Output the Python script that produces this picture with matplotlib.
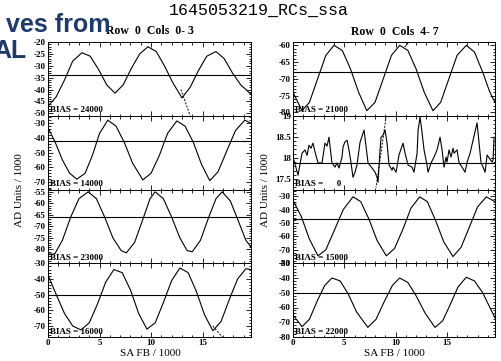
import matplotlib
matplotlib.use('Agg')
import matplotlib.pyplot as plt
from matplotlib.ticker import MultipleLocator, FuncFormatter

# ---------------------------------------------------------------------------
# Data (SA FB / 1000 vs AD Units / 1000)
# ---------------------------------------------------------------------------
title = '1645053219_RCs_ssa'
col_titles = ['Row  0  Cols  0- 3', 'Row  0  Cols  4- 7']
bias_left = ['24000', '14000', '23000', '16000']
bias_right = ['21000', '     0', '15000', '22000']

# left column
l1_x = [0, 0.8, 1.6, 2.4, 3.3, 4.1, 4.9, 5.7, 6.5, 7.3, 8.1, 8.9, 9.7, 10.5,
        11.3, 12.1, 13.0, 13.8, 14.6, 15.4, 16.3, 17.1, 17.9, 18.7, 19.7]
l1_y = [-47, -43, -36, -28, -24.5, -26, -31.5, -38, -41.5, -38, -31, -25, -22, -24,
        -30, -37, -43.5, -39, -32, -26, -24, -27, -33, -38, -42]

l2_x = [0, 0.7, 1.4, 2.1, 2.8, 3.6, 4.3, 5.0, 5.8, 6.6, 7.4, 8.2, 9.2, 10.0,
        10.8, 11.6, 12.5, 13.3, 14.1, 14.9, 15.7, 16.5, 17.4, 18.2, 19.1, 19.7]
l2_y = [-33, -43, -55, -64, -68, -64, -52, -37, -28, -32, -43, -57, -68.5, -64,
        -52, -37, -28.5, -32, -43, -58, -69, -63, -48, -35, -28, -30]

l3_x = [0, 0.65, 1.4, 2.2, 3.0, 3.9, 4.7, 5.5, 6.3, 7.1, 7.6, 8.4, 9.2, 9.9,
        10.4, 11.2, 12.0, 12.8, 13.5, 14.0, 14.8, 15.6, 16.3, 16.9, 17.7, 18.5,
        19.2, 19.7]
l3_y = [-82, -82, -76, -66, -58, -55, -58, -66, -75, -80.5, -81.5, -77, -67, -58,
        -55, -58, -66, -75, -80.5, -81, -76, -66, -58, -55, -59, -68,
        -76, -79]

l4_x = [0, 0.8, 1.6, 2.4, 3.2, 4.0, 4.8, 5.6, 6.4, 7.2, 8.0, 8.8, 9.6, 10.4,
        11.2, 12.0, 12.8, 13.6, 14.4, 15.2, 16.0, 16.8, 17.6, 18.4, 19.2, 19.7]
l4_y = [-37.5, -50, -62, -70, -72.5, -68, -56, -42, -34, -36, -47, -62, -72, -68,
        -55, -41, -33, -36, -48, -63, -73, -67, -53, -40, -33.5, -34]

# right column
r1_x = [0, 0.88, 1.6, 2.4, 3.2, 4.0, 4.8, 5.6, 6.4, 7.2, 8.0, 8.8, 9.6, 10.4,
        11.2, 12.0, 12.8, 13.65, 14.4, 15.2, 16.0, 16.9, 17.7, 18.5, 19.2, 19.7]
r1_y = [-74, -79.5, -77, -70, -63, -60, -61.5, -67, -74, -79.5, -77, -70, -63, -60,
        -61.5, -67, -74, -79.5, -77, -70, -63, -60, -62, -68, -74, -77]

r2_x = [0, 0.49, 0.88, 1.17, 1.37, 1.56, 1.76, 1.95, 2.15, 2.44, 2.83, 3.12, 3.32,
        3.51, 3.80, 4.10, 4.29, 4.49, 4.78, 4.88, 5.07, 5.27, 5.46, 5.66, 5.85,
        6.05, 6.24, 6.54, 6.93, 7.32, 7.71, 8.00, 8.20, 8.29, 8.49, 8.59, 8.78,
        8.98, 9.17, 9.37, 9.66, 9.76, 10.05, 10.34, 10.73, 10.93, 11.22, 11.61,
        11.80, 12.10, 12.20, 12.39, 12.59, 12.78, 13.07, 13.17, 13.46, 13.76,
        14.05, 14.34, 14.54, 14.73, 14.93, 15.02, 15.22, 15.41, 15.61, 15.71,
        16.00, 16.20, 16.49, 16.78, 16.98, 17.27, 17.56, 17.95, 18.05, 18.34,
        18.54, 18.73, 18.93, 19.12, 19.41, 19.51, 19.61]
r2_y = [18.02, 17.59, 18.11, 18.19, 18.06, 18.30, 18.23, 18.35, 18.14, 17.88, 17.88,
        18.35, 18.28, 18.49, 17.88, 17.78, 17.88, 17.76, 18.02, 18.26, 18.38, 18.42,
        18.19, 17.88, 17.54, 17.66, 17.83, 18.37, 18.66, 17.88, 17.76, 17.66, 17.54,
        17.42, 18.19, 18.49, 18.54, 18.66, 18.35, 17.83, 17.71, 17.78, 17.66, 18.07,
        18.35, 18.11, 17.83, 17.78, 17.66, 18.11, 18.66, 18.97, 18.59, 18.19, 17.83,
        17.66, 17.88, 18.02, 18.19, 18.49, 18.19, 17.78, 18.02, 17.90, 18.19, 18.02,
        18.23, 18.11, 18.19, 17.88, 17.78, 17.66, 17.90, 18.11, 18.42, 18.83, 18.59,
        17.88, 17.78, 17.66, 18.07, 18.00, 17.90, 17.95, 18.49]

r3_x = [0, 0.8, 1.6, 2.44, 3.2, 4.0, 4.9, 5.85, 6.6, 7.4, 8.2, 9.1, 9.9, 10.7,
        11.5, 12.35, 13.1, 13.9, 14.7, 15.6, 16.4, 17.2, 18.0, 18.85, 19.7]
r3_y = [-33, -45, -62, -74.5, -70, -56, -40, -30.5, -34, -47, -63, -74.5, -69, -55,
        -39, -30.5, -34, -48, -64, -75, -68, -53, -38, -30.5, -34]

r4_x = [0, 0.88, 1.6, 2.4, 3.1, 3.8, 4.6, 5.4, 6.2, 7.3, 8.1, 8.9, 9.7, 10.4,
        11.2, 12.0, 12.9, 13.85, 14.6, 15.4, 16.1, 16.9, 17.7, 18.5, 19.2, 19.7]
r4_y = [-65, -73, -68, -55, -45, -40, -42, -51, -63, -73.5, -68, -56, -45, -40,
        -43, -52, -64, -73.5, -69, -57, -46, -39.5, -42, -50, -60, -67]

mid_left = [-34, -42, -66, -50]
mid_right = [-68, 17.87, -47, -50]

# short dashed fit segments
dash_l1_x, dash_l1_y = [12.9, 13.8], [-40, -51]
dash_l4_x, dash_l4_y = [16.0, 16.9], [-70, -77]
dash_r2_x, dash_r2_y = [9.1, 8.1], [19.0, 17.3]
dash_r1_x, dash_r1_y = [10.9, 11.3], [-60.5, -59]

# ---------------------------------------------------------------------------
# Figure
# ---------------------------------------------------------------------------
W, H = 501, 361
fig = plt.figure(figsize=(W / 100, H / 100), dpi=100)
serif = 'Liberation Serif'


def px_rect(x0, x1, y0, y1):
    return [x0 / W, 1 - y1 / H, (x1 - x0) / W, (y1 - y0) / H]


def strip_fmt(v, pos):
    s = f'{v:g}'
    return s.replace('-', '\u2212') if False else s


top, bottom = 42, 337
step = (bottom - top) / 4
columns = [
    dict(x0=48, x1=251,
         curves=[(l1_x, l1_y), (l2_x, l2_y), (l3_x, l3_y), (l4_x, l4_y)],
         mids=mid_left, bias=bias_left,
         ylims=[(-51, -20), (-75, -25), (-86, -54), (-77, -30)],
         major=[5, 10, 5, 10], minor=[1, 2, 1, 2],
         yticks=[range(-50, -19, 5), range(-70, -29, 10), range(-80, -54, 5),
                 range(-70, -29, 10)]),
    dict(x0=293, x1=495,
         curves=[(r1_x, r1_y), (r2_x, r2_y), (r3_x, r3_y), (r4_x, r4_y)],
         mids=mid_right, bias=bias_right,
         ylims=[(-81, -59), (17.25, 19.0), (-80, -25), (-80, -30)],
         major=[5, 0.5, 10, 10], minor=[1, 0.1, 2, 2],
         yticks=[range(-80, -59, 5), [17.5, 18, 18.5, 19], range(-80, -29, 10),
                 range(-80, -29, 10)]),
]

axes = {}
for c, col in enumerate(columns):
    for r in range(4):
        ax = fig.add_axes(px_rect(col['x0'], col['x1'], top + r * step,
                                  top + (r + 1) * step))
        axes[(c, r)] = ax
        xs, ys = col['curves'][r]
        ax.plot(xs, ys, color='black', lw=0.8)
        ax.axhline(col['mids'][r], color='black', lw=0.8)
        ax.set_xlim(0, 19.7)
        ax.set_ylim(*col['ylims'][r])
        ax.set_yticks(list(col['yticks'][r]))
        ax.yaxis.set_minor_locator(MultipleLocator(col['minor'][r]))
        ax.xaxis.set_major_locator(MultipleLocator(5))
        ax.xaxis.set_minor_locator(MultipleLocator(1))
        ax.yaxis.set_major_formatter(FuncFormatter(lambda v, p: f'{v:g}'))
        ax.tick_params(which='both', direction='in', top=True, right=True,
                       labelsize=6.5, pad=1.5, width=0.6)
        ax.tick_params(which='major', length=3.5)
        ax.tick_params(which='minor', length=1.8)
        for lab in ax.get_yticklabels() + ax.get_xticklabels():
            lab.set_fontfamily(serif)
            lab.set_fontweight('bold')
        if r < 3:
            ax.tick_params(labelbottom=False)
        for sp in ax.spines.values():
            sp.set_linewidth(0.7)
        ax.text(0.012, 0.02, 'BIAS = ' + col['bias'][r], transform=ax.transAxes,
                fontsize=6.5, family=serif, fontweight='bold', ha='left',
                va='bottom')

axes[(0, 0)].plot(dash_l1_x, dash_l1_y, color='black', lw=0.7, ls=(0, (2, 1.5)))
axes[(0, 3)].plot(dash_l4_x, dash_l4_y, color='black', lw=0.7, ls=(0, (2, 1.5)))
axes[(1, 1)].plot(dash_r2_x, dash_r2_y, color='black', lw=0.7, ls=(0, (2, 1.5)))
axes[(1, 0)].plot(dash_r1_x, dash_r1_y, color='black', lw=0.7, ls=(0, (2, 1.5)))

# titles and axis labels
fig.text(259 / W, 1 - 10 / H, title, family='Liberation Mono', fontsize=12,
         ha='center', va='center')
fig.text(150 / W, 1 - 31 / H, col_titles[0], family=serif, fontsize=8.5,
         fontweight='bold', ha='center', va='center')
fig.text(395 / W, 1 - 32 / H, col_titles[1], family=serif, fontsize=8.5,
         fontweight='bold', ha='center', va='center')
for xc in (150, 394):
    fig.text(xc / W, 1 - 353 / H, 'SA FB / 1000', family=serif, fontsize=8,
             ha='center', va='center')
for xc in (20, 266):
    fig.text(xc / W, 1 - 190 / H, 'AD Units / 1000', family=serif, fontsize=8,
             rotation=90, ha='center', va='center')

# overlay text from the slide behind the plot
navy = '#1d3a6b'
fig.text(110 / W, 1 - 32 / H, 'ves from', family='Liberation Sans',
         fontweight='bold', fontsize=18, color=navy, ha='right', va='baseline')
fig.text(27 / W, 1 - 58 / H, 'AL', family='Liberation Sans',
         fontweight='bold', fontsize=18, color=navy, ha='right', va='baseline')

fig.savefig('out.png', dpi=100)
